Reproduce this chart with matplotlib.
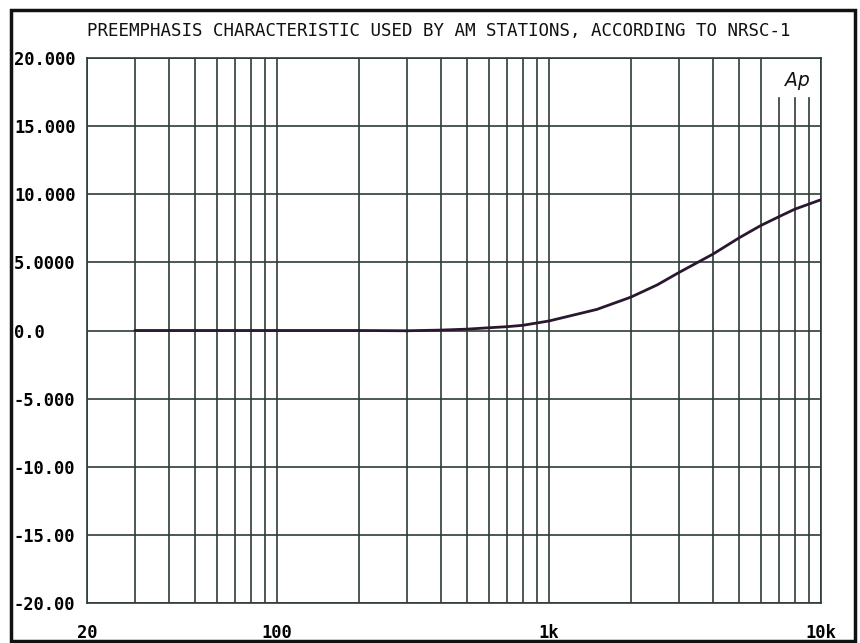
import numpy as np
import matplotlib
matplotlib.use("Agg")
import matplotlib.pyplot as plt
from matplotlib.patches import Rectangle

# Data
freq_hz = [30, 50, 100, 200, 300, 400, 500, 600, 700, 800, 1000,
           1500, 2000, 2500, 3000, 4000, 5000, 6000, 7000, 8000, 10000]
gain_db = [0.0, 0.0, 0.0, 0.0, -0.02, 0.03, 0.1, 0.2, 0.28, 0.38, 0.7,
           1.55, 2.45, 3.35, 4.25, 5.6, 6.8, 7.7, 8.35, 8.9, 9.6]

y_ticks = [20, 15, 10, 5, 0, -5, -10, -15, -20]
y_labels = ["20.000", "15.000", "10.000", "5.0000", "0.0",
            "-5.000", "-10.00", "-15.00", "-20.00"]
x_ticks = [20, 100, 1000, 10000]
x_labels = ["20", "100", "1k", "10k"]
title = "PREEMPHASIS CHARACTERISTIC USED BY AM STATIONS, ACCORDING TO NRSC-1"

W, H = 860, 643
fig = plt.figure(figsize=(W / 100, H / 100), dpi=100)
fig.patch.set_facecolor("white")

L, R, T, B = 87, 821, 58, 603
ax = fig.add_axes([L / W, 1 - B / H, (R - L) / W, (B - T) / H])
ax.set_xscale("log")
ax.set_xlim(20, 10000)
ax.set_ylim(-20, 20)

grid_c = "#2c3c36"
# vertical grid lines at 20..90, 100..900, 1k..10k
vlines = list(np.arange(20, 100, 10)) + list(np.arange(100, 1000, 100)) + list(np.arange(1000, 10001, 1000))
for v in vlines:
    top = 0.927 if v in (7000, 8000, 9000) else 1.0
    ax.axvline(v, ymin=0, ymax=top, color=grid_c, lw=1.2, zorder=1)
for h in y_ticks:
    ax.axhline(h, color=grid_c, lw=1.2, zorder=1)

ax.plot(freq_hz, gain_db, color="#2a1830", lw=2.0, zorder=3, solid_capstyle="round")

for s in ax.spines.values():
    s.set_color(grid_c)
    s.set_linewidth(1.2)

ax.minorticks_off()
ax.set_yticks(y_ticks)
ax.set_yticklabels(y_labels, fontfamily="DejaVu Sans Mono", fontweight="bold", fontsize=12.3)
for lbl in ax.get_yticklabels():
    lbl.set_ha("left")
ax.tick_params(axis="y", length=0, pad=(L - 14) * 0.72)
ax.set_xticks(x_ticks)
ax.set_xticklabels(x_labels, fontfamily="DejaVu Sans Mono", fontweight="bold", fontsize=12.3)
ax.tick_params(axis="x", which="both", length=0, pad=15)

fig.text(797 / W, 1 - 81 / H, "Ap", fontsize=13.5, style="italic",
         fontfamily="DejaVu Sans", ha="center", va="center", color="#111111")

fig.text(439 / W, 1 - 31 / H, title, fontsize=12.6, fontfamily="DejaVu Sans Mono",
         ha="center", va="center", color="#111111")

# outer frame
fig.add_artist(Rectangle((11 / W, 1 - 641 / H), (855 - 11) / W, (641 - 10) / H,
                         transform=fig.transFigure, fill=False, ec="#111111", lw=2.5))

fig.savefig("out.png", dpi=100, facecolor="white")
